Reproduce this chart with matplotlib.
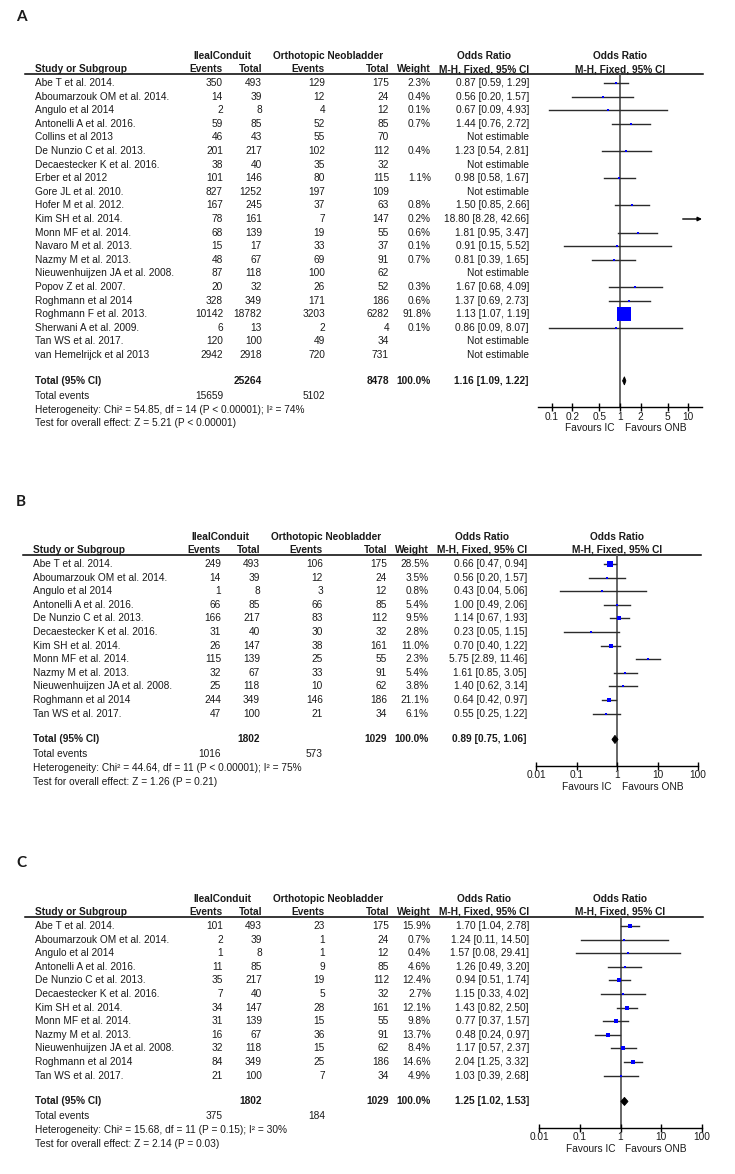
import numpy as np
import matplotlib
matplotlib.use("Agg")
import matplotlib.pyplot as plt
from matplotlib.ticker import NullLocator

plt.rcParams.update({
    "font.family": "Liberation Sans",
    "font.size": 7.25,
    "text.color": "#1a1a1a",
})

W, H = 735, 1174
TXT = "#1a1a1a"
BLUE = "#0000ff"
CI_COL = "#2b2b2b"
VLINE = "#5a5a5a"

# ---------------- data: panel A ----------------
studies_a = ["Abe T et al. 2014.", "Aboumarzouk OM et al. 2014.", "Angulo et al 2014",
             "Antonelli A et al. 2016.", "Collins et al 2013", "De Nunzio C et al. 2013.",
             "Decaestecker K et al. 2016.", "Erber et al 2012", "Gore JL et al. 2010.",
             "Hofer M et al. 2012.", "Kim SH et al. 2014.", "Monn MF et al. 2014.",
             "Navaro M et al. 2013.", "Nazmy M et al. 2013.", "Nieuwenhuijzen JA et al. 2008.",
             "Popov Z et al. 2007.", "Roghmann et al 2014", "Roghmann F et al. 2013.",
             "Sherwani A et al. 2009.", "Tan WS et al. 2017.", "van Hemelrijck et al 2013"]
ic_ev_a = [350, 14, 2, 59, 46, 201, 38, 101, 827, 167, 78, 68, 15, 48, 87, 20, 328, 10142, 6, 120, 2942]
ic_tot_a = [493, 39, 8, 85, 43, 217, 40, 146, 1252, 245, 161, 139, 17, 67, 118, 32, 349, 18782, 13, 100, 2918]
onb_ev_a = [129, 12, 4, 52, 55, 102, 35, 80, 197, 37, 7, 19, 33, 69, 100, 26, 171, 3203, 2, 49, 720]
onb_tot_a = [175, 24, 12, 85, 70, 112, 32, 115, 109, 63, 147, 55, 37, 91, 62, 52, 186, 6282, 4, 34, 731]
weight_a = [2.3, 0.4, 0.1, 0.7, None, 0.4, None, 1.1, None, 0.8, 0.2, 0.6, 0.1, 0.7, None,
            0.3, 0.6, 91.8, 0.1, None, None]
or_a = [0.87, 0.56, 0.67, 1.44, None, 1.23, None, 0.98, None, 1.50, 18.80, 1.81, 0.91, 0.81, None,
        1.67, 1.37, 1.13, 0.86, None, None]
lo_a = [0.59, 0.20, 0.09, 0.76, None, 0.54, None, 0.58, None, 0.85, 8.28, 0.95, 0.15, 0.39, None,
        0.68, 0.69, 1.07, 0.09, None, None]
hi_a = [1.29, 1.57, 4.93, 2.72, None, 2.81, None, 1.67, None, 2.66, 42.66, 3.47, 5.52, 1.65, None,
        4.09, 2.73, 1.19, 8.07, None, None]
total_a = dict(ic_tot=25264, onb_tot=8478, ic_ev=15659, onb_ev=5102, orr=1.16, lo=1.09, hi=1.22,
               het="Heterogeneity: Chi² = 54.85, df = 14 (P < 0.00001); I² = 74%",
               test="Test for overall effect: Z = 5.21 (P < 0.00001)")

# ---------------- data: panels B and C ----------------
studies_bc = ["Abe T et al. 2014.", "Aboumarzouk OM et al. 2014.", "Angulo et al 2014",
              "Antonelli A et al. 2016.", "De Nunzio C et al. 2013.", "Decaestecker K et al. 2016.",
              "Kim SH et al. 2014.", "Monn MF et al. 2014.", "Nazmy M et al. 2013.",
              "Nieuwenhuijzen JA et al. 2008.", "Roghmann et al 2014", "Tan WS et al. 2017."]
ic_tot_bc = [493, 39, 8, 85, 217, 40, 147, 139, 67, 118, 349, 100]
onb_tot_bc = [175, 24, 12, 85, 112, 32, 161, 55, 91, 62, 186, 34]

ic_ev_b = [249, 14, 1, 66, 166, 31, 26, 115, 32, 25, 244, 47]
onb_ev_b = [106, 12, 3, 66, 83, 30, 38, 25, 33, 10, 146, 21]
weight_b = [28.5, 3.5, 0.8, 5.4, 9.5, 2.8, 11.0, 2.3, 5.4, 3.8, 21.1, 6.1]
or_b = [0.66, 0.56, 0.43, 1.00, 1.14, 0.23, 0.70, 5.75, 1.61, 1.40, 0.64, 0.55]
lo_b = [0.47, 0.20, 0.04, 0.49, 0.67, 0.05, 0.40, 2.89, 0.85, 0.62, 0.42, 0.25]
hi_b = [0.94, 1.57, 5.06, 2.06, 1.93, 1.15, 1.22, 11.46, 3.05, 3.14, 0.97, 1.22]
total_b = dict(ic_tot=1802, onb_tot=1029, ic_ev=1016, onb_ev=573, orr=0.89, lo=0.75, hi=1.06,
               het="Heterogeneity: Chi² = 44.64, df = 11 (P < 0.00001); I² = 75%",
               test="Test for overall effect: Z = 1.26 (P = 0.21)")

ic_ev_c = [101, 2, 1, 11, 35, 7, 34, 31, 16, 32, 84, 21]
onb_ev_c = [23, 1, 1, 9, 19, 5, 28, 15, 36, 15, 25, 7]
weight_c = [15.9, 0.7, 0.4, 4.6, 12.4, 2.7, 12.1, 9.8, 13.7, 8.4, 14.6, 4.9]
or_c = [1.70, 1.24, 1.57, 1.26, 0.94, 1.15, 1.43, 0.77, 0.48, 1.17, 2.04, 1.03]
lo_c = [1.04, 0.11, 0.08, 0.49, 0.51, 0.33, 0.82, 0.37, 0.24, 0.57, 1.25, 0.39]
hi_c = [2.78, 14.50, 29.41, 3.20, 1.74, 4.02, 2.50, 1.57, 0.97, 2.37, 3.32, 2.68]
total_c = dict(ic_tot=1802, onb_tot=1029, ic_ev=375, onb_ev=184, orr=1.25, lo=1.02, hi=1.53,
               het="Heterogeneity: Chi² = 15.68, df = 11 (P = 0.15); I² = 30%",
               test="Test for overall effect: Z = 2.14 (P = 0.03)")

ticks_a = [0.1, 0.2, 0.5, 1, 2, 5, 10]
ticklab_a = ["0.1", "0.2", "0.5", "1", "2", "5", "10"]
ticks_bc = [0.01, 0.1, 1, 10, 100]
ticklab_bc = ["0.01", "0.1", "1", "10", "100"]

# ---------------- drawing ----------------
fig = plt.figure(figsize=(W / 100, H / 100), dpi=100)
bg = fig.add_axes([0, 0, 1, 1])
bg.set_xlim(0, W); bg.set_ylim(H, 0); bg.axis("off")

DY = 13.6


def fmt_or(o, l, h):
    return "%.2f [%.2f, %.2f]" % (o, l, h)


def panel(label, label_y, hdr_y, studies, ic_ev, ic_tot, onb_ev, onb_tot, wt, orr, lo, hi,
          tot, dx, ax_x, xlim, ticks, ticklabels):
    line_y = hdr_y + 18
    y0 = line_y + 9
    n = len(studies)
    last = y0 + (n - 1) * DY
    total_y = last + 1.9 * DY
    ev_y = total_y + 15
    het_y = ev_y + 14
    test_y = het_y + 13.5
    axis_y = last + 52
    c = dict(study=35 + dx, ic_ev=223 + dx, ic_tot=262 + dx, onb_ev=325 + dx,
             onb_tot=389 + dx, wt=431 + dx, orr=529 + dx)
    l0, l1 = np.log10(xlim)
    cx = ax_x[0] + (ax_x[1] - ax_x[0]) * (0 - l0) / (l1 - l0)

    bg.text(16, label_y, label, family="Lato", fontsize=11, weight="bold", va="center")
    # headers
    kw = dict(weight="bold", va="center")
    bg.text(222 + dx, hdr_y, "IlealConduit", ha="center", **kw)
    bg.text(328 + dx, hdr_y, "Orthotopic Neobladder", ha="center", **kw)
    bg.text(484 + dx, hdr_y, "Odds Ratio", ha="center", **kw)
    bg.text(cx, hdr_y, "Odds Ratio", ha="center", **kw)
    h2 = hdr_y + 13
    bg.text(c["study"], h2, "Study or Subgroup", ha="left", **kw)
    bg.text(c["ic_ev"], h2, "Events", ha="right", **kw)
    bg.text(c["ic_tot"], h2, "Total", ha="right", **kw)
    bg.text(c["onb_ev"], h2, "Events", ha="right", **kw)
    bg.text(c["onb_tot"], h2, "Total", ha="right", **kw)
    bg.text(c["wt"], h2, "Weight", ha="right", **kw)
    bg.text(c["orr"], h2, "M-H, Fixed, 95% CI", ha="right", **kw)
    bg.text(cx, h2, "M-H, Fixed, 95% CI", ha="center", **kw)
    bg.plot([25 + dx, 703 + dx], [line_y, line_y], color="black", lw=1.1)

    # study rows
    for i in range(n):
        y = y0 + i * DY
        bg.text(c["study"], y, studies[i], ha="left", va="center")
        bg.text(c["ic_ev"], y, str(ic_ev[i]), ha="right", va="center")
        bg.text(c["ic_tot"], y, str(ic_tot[i]), ha="right", va="center")
        bg.text(c["onb_ev"], y, str(onb_ev[i]), ha="right", va="center")
        bg.text(c["onb_tot"], y, str(onb_tot[i]), ha="right", va="center")
        if orr[i] is None:
            bg.text(c["orr"], y, "Not estimable", ha="right", va="center")
        else:
            bg.text(c["wt"], y, "%.1f%%" % wt[i], ha="right", va="center")
            bg.text(c["orr"], y, fmt_or(orr[i], lo[i], hi[i]), ha="right", va="center")

    # totals
    b = dict(weight="bold", va="center")
    bg.text(c["study"], total_y, "Total (95% CI)", ha="left", **b)
    bg.text(c["ic_tot"], total_y, str(tot["ic_tot"]), ha="right", **b)
    bg.text(c["onb_tot"], total_y, str(tot["onb_tot"]), ha="right", **b)
    bg.text(c["wt"], total_y, "100.0%", ha="right", **b)
    bg.text(c["orr"], total_y, fmt_or(tot["orr"], tot["lo"], tot["hi"]), ha="right", **b)
    bg.text(c["study"], ev_y, "Total events", ha="left", va="center")
    bg.text(c["ic_ev"], ev_y, str(tot["ic_ev"]), ha="right", va="center")
    bg.text(c["onb_ev"], ev_y, str(tot["onb_ev"]), ha="right", va="center")
    bg.text(c["study"], het_y, tot["het"], ha="left", va="center")
    bg.text(c["study"], test_y, tot["test"], ha="left", va="center")

    # forest plot
    fa = fig.add_axes([ax_x[0] / W, 1 - axis_y / H, (ax_x[1] - ax_x[0]) / W, (axis_y - line_y) / H])
    fa.patch.set_alpha(0)
    fa.set_xscale("log")
    fa.set_xlim(*xlim)
    fa.set_ylim((axis_y - y0) / DY, (line_y - y0) / DY)
    for s in ["left", "right", "top"]:
        fa.spines[s].set_visible(False)
    fa.spines["bottom"].set_linewidth(1.0)
    fa.set_yticks([])
    fa.axvline(1, color=VLINE, lw=1.3, zorder=1)
    for i in range(n):
        if orr[i] is None:
            continue
        if hi[i] > xlim[1]:
            fa.annotate("", xy=(xlim[1], i), xytext=(lo[i], i), annotation_clip=False,
                        arrowprops=dict(arrowstyle="-|>", color="black", lw=1,
                                        mutation_scale=6, shrinkA=0, shrinkB=0))
        else:
            fa.plot([lo[i], hi[i]], [i, i], color=CI_COL, lw=1.0, zorder=2)
        side = 2 + 0.13 * wt[i]
        fa.plot(orr[i], i, "s", ms=side * 0.72, color=BLUE, mew=0, zorder=3)
    ti = (total_y - y0) / DY
    fa.fill([tot["lo"], tot["orr"], tot["hi"], tot["orr"]], [ti, ti - 0.3, ti, ti + 0.3],
            color="black", lw=0.6, zorder=3)
    fa.set_xticks(ticks)
    fa.set_xticklabels(ticklabels)
    fa.xaxis.set_minor_locator(NullLocator())
    fa.tick_params(axis="x", direction="inout", length=6, width=1, pad=0.5,
                   labelsize=7.25, labelcolor=TXT)
    bg.text(cx - 5, axis_y + 21, "Favours IC", ha="right", va="center")
    bg.text(cx + 5, axis_y + 21, "Favours ONB", ha="left", va="center")


panel("A", 17, 56, studies_a, ic_ev_a, ic_tot_a, onb_ev_a, onb_tot_a, weight_a, or_a, lo_a, hi_a,
      total_a, 0, (538, 702), (10 ** -1.2, 10 ** 1.2), ticks_a, ticklab_a)
panel("B", 502, 537, studies_bc, ic_ev_b, ic_tot_bc, onb_ev_b, onb_tot_bc, weight_b, or_b, lo_b, hi_b,
      total_b, -2, (536, 698), (0.01, 100), ticks_bc, ticklab_bc)
panel("C", 863, 899, studies_bc, ic_ev_c, ic_tot_bc, onb_ev_c, onb_tot_bc, weight_c, or_c, lo_c, hi_c,
      total_c, 0, (539, 702), (0.01, 100), ticks_bc, ticklab_bc)

fig.savefig("out.png", dpi=100)
